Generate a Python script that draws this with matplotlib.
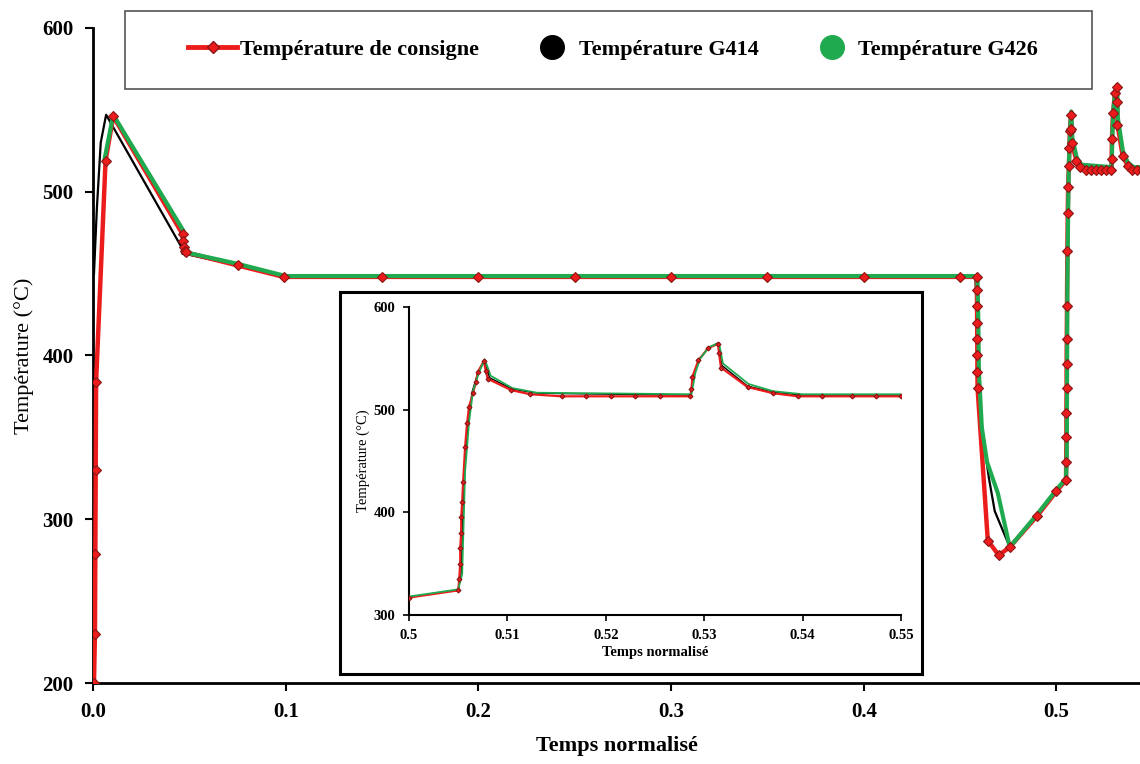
import matplotlib
matplotlib.use('Agg')
import matplotlib.pyplot as plt
from matplotlib.lines import Line2D
from matplotlib.patches import Rectangle
from matplotlib.ticker import FormatStrFormatter, FuncFormatter

plt.rcParams['font.family'] = ['Liberation Serif', 'DejaVu Serif']

#==============================================================================
# Données
#==============================================================================

# Température de consigne
consigneX = [0.0005, 0.0010, 0.0012, 0.0014, 0.0016, 0.0065, 0.0105,
             0.0465, 0.0467, 0.0470, 0.0475, 0.0480, 0.0750, 0.0990,
             0.1500, 0.2000, 0.2500, 0.3000, 0.3500, 0.4000, 0.4500, 0.4587,
             0.4588, 0.4588, 0.4589, 0.4589, 0.4590, 0.4590, 0.4591,
             0.4644, 0.4701, 0.4758, 0.4900, 0.5000, 0.5050,
             0.5051, 0.5052, 0.5052, 0.5053, 0.5053, 0.5054, 0.5055, 0.5057,
             0.5059, 0.5061, 0.5065, 0.5068, 0.5070, 0.5076, 0.5078, 0.5080,
             0.5104, 0.5123,
             0.5155, 0.5180, 0.5205, 0.5230, 0.5255, 0.5286,
             0.5287, 0.5288, 0.5294, 0.5304, 0.5314, 0.5315, 0.5317,
             0.5344, 0.5370, 0.5395, 0.5420, 0.5450, 0.5475, 0.5500]
consigneY = [200, 230, 279, 330, 384, 519, 546,
             474, 470, 466, 464, 463, 455, 448,
             448, 448, 448, 448, 448, 448, 448, 448,
             440, 430, 420, 410, 400, 390, 380,
             287, 278, 283, 302, 317, 324,
             335, 350, 365, 380, 395, 410, 430, 464,
             487, 503, 516, 527, 537, 547, 538, 530,
             519, 515,
             513, 513, 513, 513, 513, 513,
             520, 532, 548, 560, 564, 555, 541,
             522, 516, 513, 513, 513, 513, 513]

# Température G414
g414X = [0.0005, 0.0020, 0.0040, 0.0068, 0.0460, 0.0465, 0.0480, 0.0750,
         0.1000, 0.4580, 0.4585, 0.4590, 0.4595, 0.4620, 0.4650, 0.4680,
         0.4758, 0.4900, 0.5000, 0.5050, 0.5053, 0.5056, 0.5060, 0.5064,
         0.5070, 0.5076, 0.5082, 0.5105, 0.5130, 0.5286, 0.5290, 0.5295,
         0.5304, 0.5314, 0.5318, 0.5344, 0.5370, 0.5400, 0.5500]
g414Y = [450, 490, 530, 547, 466, 462, 462, 455,
         447.5, 447.5, 430, 400, 380, 350, 325, 305,
         283, 302, 317.5, 324.5, 340, 440, 487, 517,
         536, 548, 531, 520, 516, 514, 535, 549,
         560, 565, 543, 523, 517, 514, 514]

# Température G426
g426X = [0.0060, 0.0105, 0.0470, 0.0472, 0.0480, 0.0750, 0.1000,
         0.4590, 0.4595, 0.4598, 0.4613, 0.4640, 0.4696, 0.4758,
         0.4900, 0.5000, 0.5050, 0.5054, 0.5057, 0.5061, 0.5065,
         0.5071, 0.5077, 0.5083, 0.5105, 0.5130, 0.5287, 0.5291, 0.5296,
         0.5305, 0.5315, 0.5319, 0.5345, 0.5370, 0.5400, 0.5500]
g426Y = [520, 547, 476, 468, 463, 456, 448.5,
         448.5, 420, 390, 356, 335, 316, 283,
         303, 318, 325, 340, 440, 488, 518,
         536, 549, 533, 521, 516.5, 515, 536, 550,
         561, 565, 545, 525, 518, 515, 515]

labels = ['Température de consigne', 'Température G414', 'Température G426']

rouge = '#ec1c1c'
bordRouge = '#8b1515'
vert = '#1faa4f'


def tracer(ax, lwRouge, msRouge, lwVert, lwNoir):
    ax.plot(g414X, g414Y, color='black', lw=lwNoir, zorder=2)
    ax.plot(consigneX, consigneY, color=rouge, lw=lwRouge, zorder=3)
    ax.plot(g426X, g426Y, color=vert, lw=lwVert, zorder=4)
    ax.plot(consigneX, consigneY, ls='none', marker='D', ms=msRouge,
            mfc=rouge, mec=bordRouge, mew=0.8, zorder=5)


#==============================================================================
# Figure principale
#==============================================================================

fig = plt.figure(figsize=(11.4, 7.64), dpi=100)
ax = fig.add_axes([0.0816, 0.106, 0.9184, 0.8574])
tracer(ax, 3.2, 5, 3.0, 1.6)
ax.set_xlim(0, 0.5434)
ax.set_ylim(200, 600)
ax.set_yticks([200, 300, 400, 500, 600])
ax.set_xticks([0.0, 0.1, 0.2, 0.3, 0.4, 0.5])
ax.xaxis.set_major_formatter(FormatStrFormatter('%.1f'))
for side in ['top', 'right']:
    ax.spines[side].set_visible(False)
for side in ['left', 'bottom']:
    ax.spines[side].set_linewidth(2)
ax.tick_params(width=1.5, length=6, labelsize=15, pad=8)
for lab in ax.get_xticklabels() + ax.get_yticklabels():
    lab.set_fontweight('bold')
ax.set_xlabel('Temps normalisé', fontsize=16, fontweight='bold', labelpad=10)
ax.set_ylabel('Température (°C)', fontsize=16, labelpad=6)

# legend
fig.patches.append(Rectangle((0.1096, 0.8835), 0.848, 0.102, transform=fig.transFigure,
                             fc='white', ec='#555555', lw=1.2, zorder=10))
handles = [Line2D([], [], color=rouge, lw=3.5, marker='D', ms=6, mfc=rouge, mec=bordRouge),
           Line2D([], [], ls='none', marker='o', ms=17, color='black'),
           Line2D([], [], ls='none', marker='o', ms=17, color=vert)]
leg = fig.legend(handles, labels, loc='center', bbox_to_anchor=(0.538, 0.9346), ncol=3,
                 frameon=False, handlelength=2.2, handletextpad=0.1, columnspacing=2.2,
                 prop={'size': 16, 'weight': 'bold'})
leg.set_zorder(11)

#==============================================================================
# Encart
#==============================================================================

cadre = fig.add_axes([0.2982, 0.1178, 0.5106, 0.5])
cadre.set_xticks([])
cadre.set_yticks([])
for side in cadre.spines.values():
    side.set_linewidth(2.2)
cadre.set_zorder(20)

axi = fig.add_axes([0.3588, 0.195, 0.4316, 0.4032])
axi.set_zorder(21)
axi.patch.set_alpha(0)
tracer(axi, 1.6, 2.5, 1.3, 1.0)
axi.set_xlim(0.5, 0.55)
axi.set_ylim(300, 600)
axi.set_xticks([0.5, 0.51, 0.52, 0.53, 0.54, 0.55])
axi.set_yticks([300, 400, 500, 600])
axi.xaxis.set_major_formatter(FuncFormatter(lambda v, p: '%g' % round(v, 2)))
for side in ['top', 'right']:
    axi.spines[side].set_visible(False)
for side in ['left', 'bottom']:
    axi.spines[side].set_linewidth(1.5)
axi.tick_params(width=1.2, length=4, labelsize=10.5, pad=6)
for lab in axi.get_xticklabels() + axi.get_yticklabels():
    lab.set_fontweight('bold')
axi.set_xlabel('Temps normalisé', fontsize=10.5, fontweight='bold', labelpad=3)
axi.set_ylabel('Température (°C)', fontsize=10.5, labelpad=2)

fig.savefig('out.png', dpi=100)
